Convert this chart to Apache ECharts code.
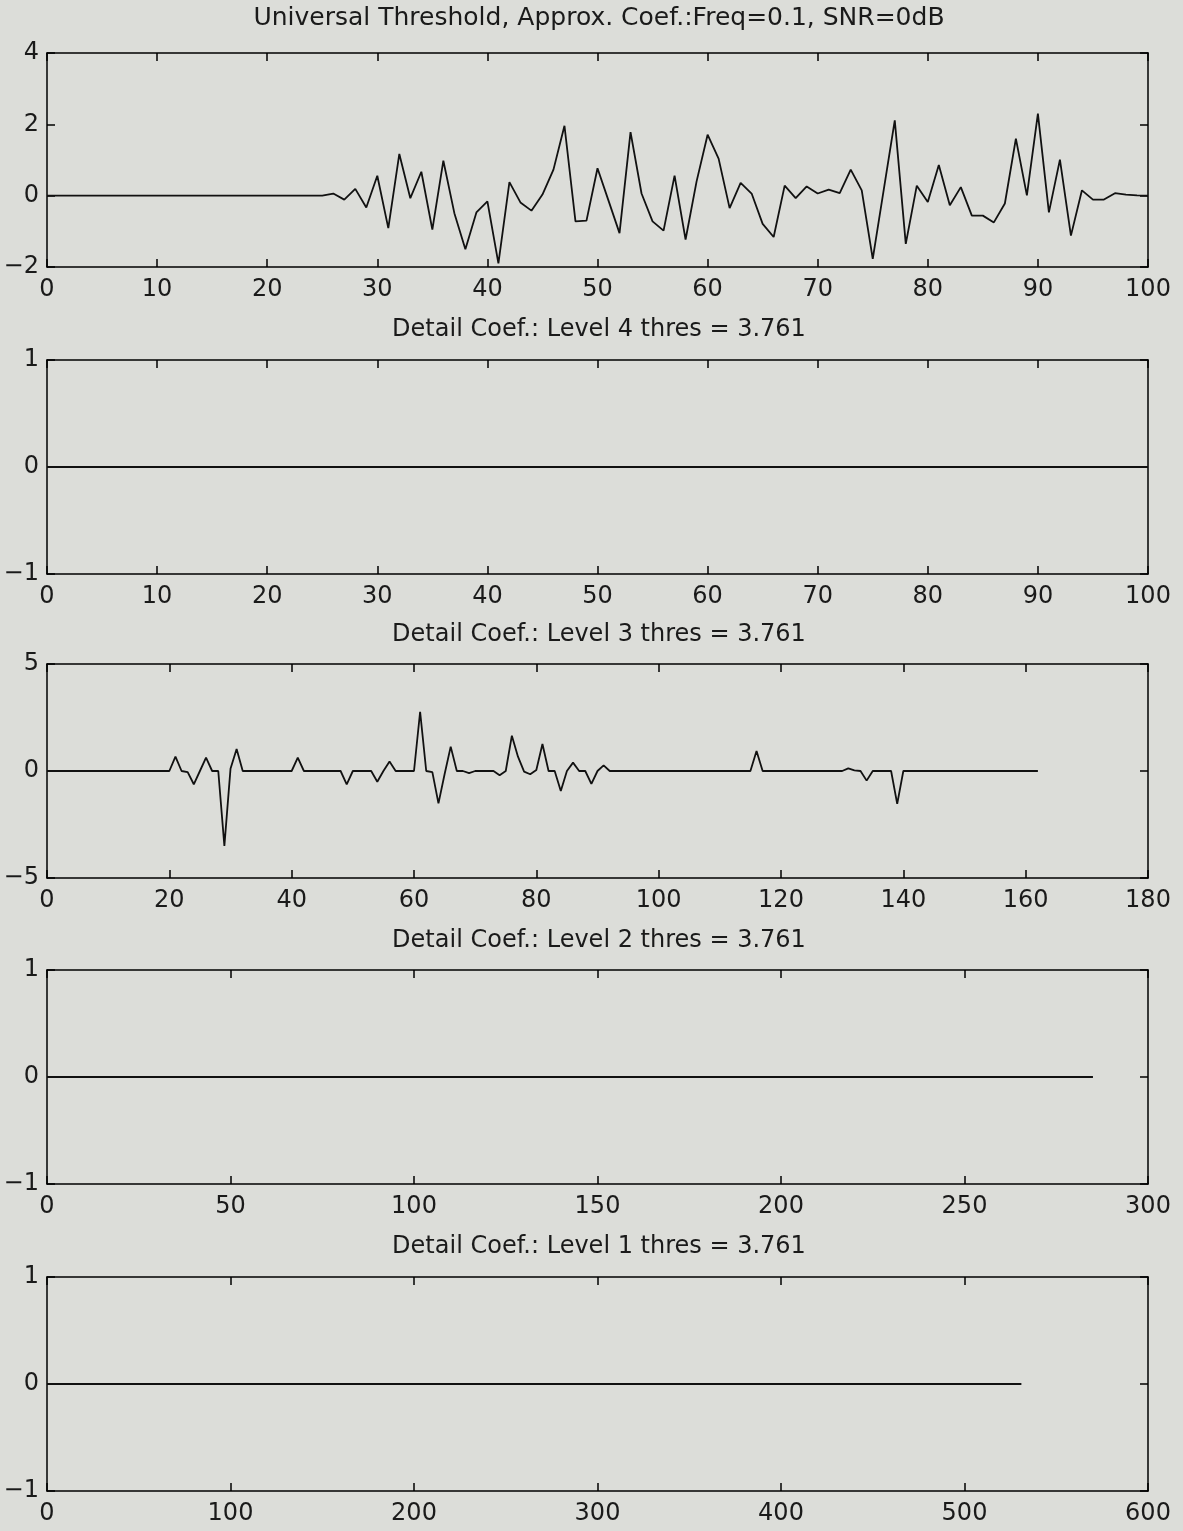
<!DOCTYPE html>
<html>
<head>
<meta charset="utf-8">
<script src="https://cdn.jsdelivr.net/npm/echarts@6/dist/echarts.min.js"></script>
<style>
html,body{margin:0;padding:0;background:#dcddd9;}
#chart{width:1183px;height:1531px;}
</style>
</head>
<body>
<div id="chart"></div>
<script>
// ---- Data ----
var mainTitle = "Universal Threshold, Approx. Coef.:Freq=0.1, SNR=0dB";
var panelTitles = [
  null,
  "Detail Coef.: Level 4 thres = 3.761",
  "Detail Coef.: Level 3 thres = 3.761",
  "Detail Coef.: Level 2 thres = 3.761",
  "Detail Coef.: Level 1 thres = 3.761"
];

// Approximation coefficients (x = index 0..100)
var approxValues = [
  0,0,0,0,0,0,0,0,0,0,
  0,0,0,0,0,0,0,0,0,0,
  0,0,0,0,0,0,0.06,-0.11,0.19,-0.33,
  0.56,-0.91,1.17,-0.07,0.67,-0.95,0.98,-0.49,-1.5,-0.47,
  -0.16,-1.9,0.38,-0.19,-0.42,0.03,0.73,1.96,-0.72,-0.7,
  0.77,-0.14,-1.05,1.78,0.06,-0.72,-0.98,0.56,-1.23,0.4,
  1.71,1.04,-0.35,0.36,0.06,-0.79,-1.16,0.28,-0.07,0.26,
  0.06,0.17,0.07,0.73,0.15,-1.77,0.17,2.11,-1.35,0.28,
  -0.18,0.86,-0.27,0.24,-0.56,-0.56,-0.75,-0.22,1.6,0.01,
  2.3,-0.47,1.01,-1.12,0.15,-0.11,-0.11,0.07,0.03,0.01,
  0
];

// Level 4 detail (flat): line vertices
var level4X = [0, 100];
var level4Y = [0, 0];

// Level 3 detail (x = index 0..162)
var level3Values = [
  0,0,0,0,0,0,0,0,0,0,
  0,0,0,0,0,0,0,0,0,0,
  0,0.67,0,-0.05,-0.62,0,0.62,0,0,-3.5,
  0.1,1.03,0,0,0,0,0,0,0,0,
  0,0.62,0,0,0,0,0,0,0,-0.62,
  0,0,0,0,-0.5,0,0.44,0,0,0,
  0,2.77,0,-0.05,-1.51,-0.15,1.14,0,0,-0.1,
  0,0,0,0,-0.2,0,1.65,0.67,-0.03,-0.15,
  0.05,1.26,0,0,-0.93,0,0.39,0,0,-0.6,
  0,0.26,0,0,0,0,0,0,0,0,
  0,0,0,0,0,0,0,0,0,0,
  0,0,0,0,0,0,0.93,0,0,0,
  0,0,0,0,0,0,0,0,0,0,
  0,0.12,0.03,0,-0.45,0,0,0,0,-1.54,
  0,0,0,0,0,0,0,0,0,0,
  0,0,0,0,0,0,0,0,0,0,
  0,0,0
];

// Level 2 and Level 1 detail (flat): line vertices
var level2X = [0, 285];
var level2Y = [0, 0];
var level1X = [0, 531];
var level1Y = [0, 0];

// Axis ranges / ticks
var xRanges = [[0,100,10],[0,100,10],[0,180,20],[0,300,50],[0,600,100]];
var yRanges = [[-2,4,2],[-1,1,1],[-5,5,5],[-1,1,1],[-1,1,1]];

// ---- Build ----
function idxPairs(arr){ return arr.map(function(v,i){ return [i,v]; }); }
function xyPairs(xs, ys){ return xs.map(function(x,i){ return [x, ys[i]]; }); }

var seriesData = [
  idxPairs(approxValues),
  xyPairs(level4X, level4Y),
  idxPairs(level3Values),
  xyPairs(level2X, level2Y),
  xyPairs(level1X, level1Y)
];

var FONT = "DejaVu Sans";
var FS = 24;
var gridTops = [53, 360, 664, 970, 1277];
var gridH = 214;
var titleTops = [6, 318, 623, 929, 1235];

var grids = [], xAxes = [], yAxes = [], series = [], titles = [];
var lineSt = {color:'#000', width:1.5};

gridTops.forEach(function(top, i){
  grids.push({left:47, width:1101, top:top, height:gridH, containLabel:false});
  var xr = xRanges[i], yr = yRanges[i];
  var baseX = {gridIndex:i, type:'value', min:xr[0], max:xr[1], interval:xr[2],
    splitLine:{show:false},
    axisLine:{show:true, onZero:false, lineStyle:lineSt},
    axisTick:{show:true, inside:true, length:8, lineStyle:lineSt}};
  xAxes.push(Object.assign({}, baseX, {position:'bottom',
    axisLabel:{show:true, fontFamily:FONT, fontSize:FS, color:'#1a1a1a', margin:11, showMinLabel:true, showMaxLabel:true}}));
  xAxes.push(Object.assign({}, baseX, {position:'top', axisLabel:{show:false}}));
  var baseY = {gridIndex:i, type:'value', min:yr[0], max:yr[1], interval:yr[2],
    splitLine:{show:false},
    axisLine:{show:true, onZero:false, lineStyle:lineSt},
    axisTick:{show:true, inside:true, length:8, lineStyle:lineSt}};
  yAxes.push(Object.assign({}, baseY, {position:'left',
    axisLabel:{show:true, fontFamily:FONT, fontSize:FS, color:'#1a1a1a', margin:8, showMinLabel:true, showMaxLabel:true,
      formatter:function(v){ return String(v).replace('-', '\u2212'); }}}));
  yAxes.push(Object.assign({}, baseY, {position:'right', axisLabel:{show:false}}));
  series.push({type:'line', xAxisIndex:2*i, yAxisIndex:2*i, data:seriesData[i],
    symbol:'none', lineStyle:{color:'#111', width:1.8}, animation:false, silent:true});
  var t = i === 0 ? mainTitle : panelTitles[i];
  var fs = i === 0 ? 25 : 24;
  titles.push({text:t, left:599, textAlign:'center', top:titleTops[i], padding:0,
    textStyle:{fontFamily:FONT, fontSize:fs, fontWeight:'normal', color:'#1a1a1a'}});
});

var chart = echarts.init(document.getElementById('chart'), null, {renderer:'canvas'});
chart.setOption({
  backgroundColor:'#dcddd9',
  animation:false,
  title:titles,
  grid:grids,
  xAxis:xAxes,
  yAxis:yAxes,
  series:series
});
</script>
</body>
</html>
